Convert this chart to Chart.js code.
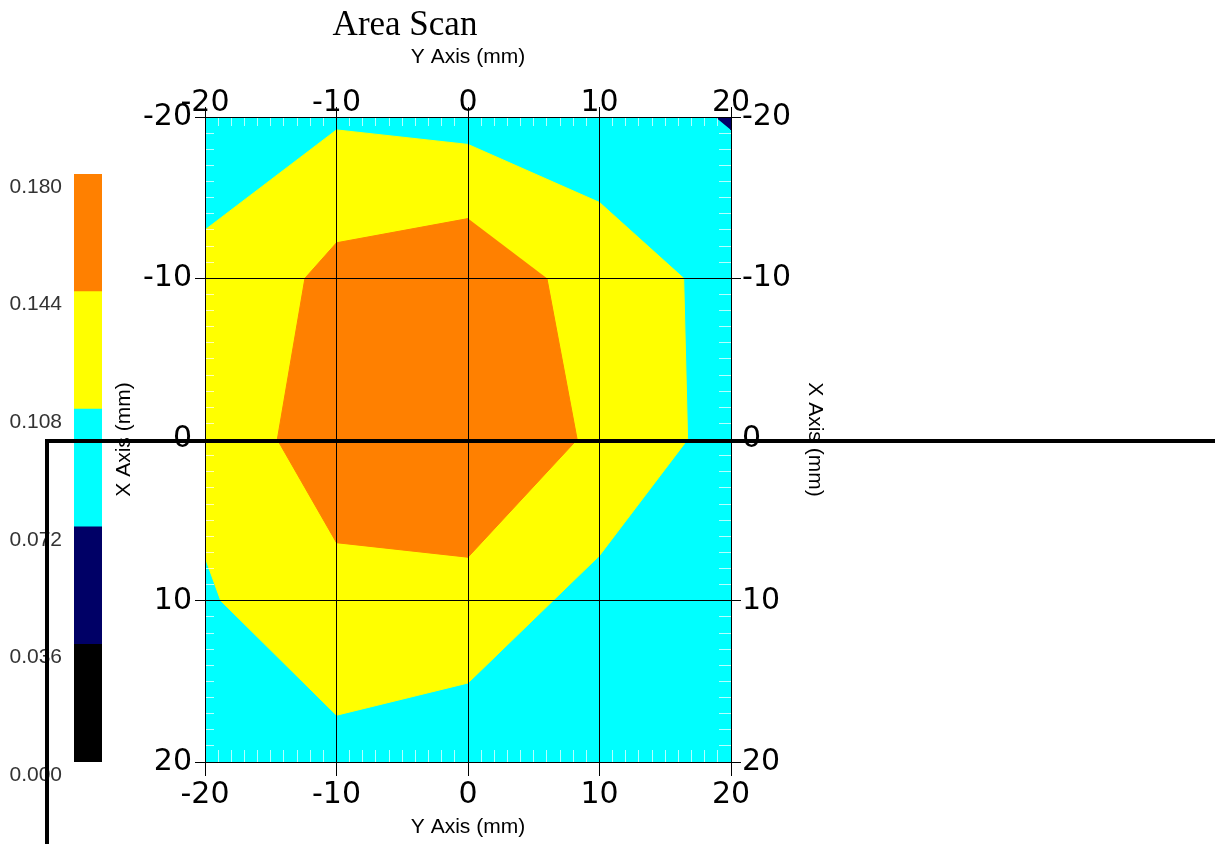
<!DOCTYPE html>
<html><head><meta charset="utf-8">
<script src="https://cdn.jsdelivr.net/npm/chart.js@4.4.1/dist/chart.umd.min.js"></script>
<style>
html,body{margin:0;padding:0;background:#fff;width:1215px;height:844px;overflow:hidden;position:relative}
canvas{position:absolute}
#cb{left:0;top:0}
#main{left:-20px;top:0}
#ov{left:0;top:0;pointer-events:none}
</style></head><body>
<canvas id="cb" width="110" height="844"></canvas>
<canvas id="main" width="850" height="844"></canvas>
<canvas id="ov" width="1215" height="844"></canvas>
<script>
// ---------- data ----------
const chartTitle = 'Area Scan';
const horizAxisTitle = 'Y Axis (mm)';
const vertAxisTitle = 'X Axis (mm)';
const axisTicks = [-20, -10, 0, 10, 20];
const levels = [0.000, 0.036, 0.072, 0.108, 0.144, 0.180];
const levelColors = ['#000000', '#000066', '#00FFFF', '#FFFF00', '#FF8000'];

// contour bands as polygons: horizontal = Y Axis (mm), vertical = X Axis (mm)
const bandCyanX = [-20, 20, 20, -20];
const bandCyanY = [-20, -20, 20, 20];
const bandYellowX = [-20, -10, 0, 10, 16.4, 16.7, 10, 0, -10, -18.8, -20];
const bandYellowY = [-13.0, -19.2, -18.3, -14.7, -10, 0, 7.2, 15.1, 17.1, 10, 7.3];
const bandOrangeX = [0, -10, -12.4, -14.5, -10, 0, 8.3, 6.0];
const bandOrangeY = [-13.7, -12.2, -10, 0, 6.4, 7.3, 0, -10];
const bandNavyX = [18.8, 20, 20];
const bandNavyY = [-20, -20, -19.2];

const minorTickValues = [];
for (let v = -19; v <= 19; v++) minorTickValues.push(v);

// ---------- helpers ----------
const pts = (xs, ys) => xs.map((x, i) => ({x: x, y: ys[i]}));
function band(label, xs, ys, color, order) {
  return {label, data: pts(xs, ys), showLine: true, fill: 'shape', tension: 0,
    backgroundColor: color, borderColor: color, borderWidth: 1,
    pointRadius: 0, pointHoverRadius: 0, order};
}
const tickFont = {family: 'DejaVu Sans', size: 30};
const titleFont = {family: 'Liberation Sans', size: 21};
const setMajor = s => { s.ticks = axisTicks.map(v => ({value: v})); };
function minorAxis(axis, position, len, reverse) {
  return {type: 'linear', axis, position, min: -20, max: 20, reverse, weight: 0,
    afterBuildTicks: s => { s.ticks = minorTickValues.map(v => ({value: v})); },
    afterFit: s => { if (s.isHorizontal()) s.height = 0; else s.width = 0; },
    grid: {display: true, drawOnChartArea: false, drawTicks: true, tickLength: -len,
      color: 'rgba(255,255,255,0.7)', lineWidth: 1, z: 2},
    border: {display: false}, ticks: {display: false}, title: {display: false}};
}
function majorAxis(axis, position, opts) {
  return {type: 'linear', axis, position, min: -20, max: 20, reverse: axis === 'y',
    weight: 1, afterBuildTicks: setMajor, afterFit: opts.fit,
    grid: {display: true, color: '#000', lineWidth: 1, drawOnChartArea: opts.onArea,
      drawTicks: true, tickLength: opts.tl, z: 3},
    border: {display: true, color: '#000', width: 1, z: 3},
    ticks: {font: tickFont, color: '#000', padding: opts.pad, autoSkip: false, maxRotation: 0, z: 3},
    title: {display: true, text: axis === 'x' ? horizAxisTitle : vertAxisTitle,
      font: titleFont, color: '#000', padding: opts.tpad}};
}

// ---------- colour bar ----------
new Chart(document.getElementById('cb'), {
  type: 'bar',
  data: {labels: ['level'], datasets: levelColors.map((c, i) => ({
    label: levels[i].toFixed(3) + '-' + levels[i + 1].toFixed(3),
    data: [[levels[i], levels[i + 1]]], backgroundColor: c, borderWidth: 0,
    barPercentage: 1, categoryPercentage: 1}))},
  options: {responsive: false, animation: false, devicePixelRatio: 1, events: [],
    layout: {padding: {left: 0, top: 174, right: 8, bottom: 82}, autoPadding: false},
    plugins: {legend: {display: false}, tooltip: {enabled: false}},
    scales: {
      x: {display: false, stacked: true},
      y: {min: 0, max: 0.18, stacked: false,
        afterBuildTicks: s => { s.ticks = levels.map(v => ({value: v})); },
        afterFit: s => { s.width = 74; },
        grid: {display: false, drawTicks: false}, border: {display: false},
        ticks: {padding: 12, labelOffset: 13, color: '#333', autoSkip: false,
          font: {family: 'Liberation Sans', size: 21}, callback: v => Number(v).toFixed(3)}}
    }}
});

// ---------- main contour chart ----------
new Chart(document.getElementById('main'), {
  type: 'scatter',
  data: {datasets: [
    band('0.072-0.108', bandCyanX, bandCyanY, levelColors[2], 4),
    band('0.108-0.144', bandYellowX, bandYellowY, levelColors[3], 3),
    band('0.144-0.180', bandOrangeX, bandOrangeY, levelColors[4], 2),
    band('0.036-0.072', bandNavyX, bandNavyY, levelColors[1], 1)
  ]},
  options: {responsive: false, animation: false, devicePixelRatio: 1, events: [],
    layout: {padding: 0, autoPadding: false},
    plugins: {legend: {display: false}, tooltip: {enabled: false},
      title: {display: true, text: chartTitle, color: '#000',
        font: {family: 'Liberation Serif', size: 35, weight: 'normal', lineHeight: '40px'},
        padding: {top: 6, bottom: 0}}},
    scales: {
      x: majorAxis('x', 'bottom', {fit: s => { s.height = 82; }, onArea: true, tl: 14, pad: 1, tpad: {top: 0, bottom: 4}}),
      x2: majorAxis('x', 'top', {fit: s => { s.height = 71; }, onArea: false, tl: 10, pad: -14, tpad: {top: -1.6, bottom: 0}}),
      y: majorAxis('y', 'left', {fit: s => { s.width = 225; }, onArea: true, tl: 10, pad: 3, tpad: {top: 131.4, bottom: 0}}),
      y2: majorAxis('y', 'right', {fit: s => { s.width = 99; }, onArea: false, tl: 10, pad: 1, tpad: {top: 2.4, bottom: 0}}),
      xb: minorAxis('x', 'bottom', 12, false),
      xt: minorAxis('x', 'top', 9, false),
      yl: minorAxis('y', 'left', 9, true),
      yr: minorAxis('y', 'right', 12, true)
    }}
});

// ---------- overlay frame line ----------
new Chart(document.getElementById('ov'), {
  type: 'scatter',
  data: {datasets: []},
  options: {responsive: false, animation: false, devicePixelRatio: 1, events: [],
    layout: {padding: {left: 47, top: 441, right: 0, bottom: 0}, autoPadding: false},
    plugins: {legend: {display: false}, tooltip: {enabled: false}},
    scales: {
      x: {type: 'linear', position: 'top', min: 0, max: 1,
        grid: {display: false, drawTicks: false}, ticks: {display: false},
        border: {display: true, color: '#000', width: 4}, afterFit: s => { s.height = 0; }},
      y: {type: 'linear', position: 'left', min: 0, max: 1,
        grid: {display: false, drawTicks: false}, ticks: {display: false},
        border: {display: true, color: '#000', width: 4}, afterFit: s => { s.width = 0; }}
    }}
});
</script></body></html>
